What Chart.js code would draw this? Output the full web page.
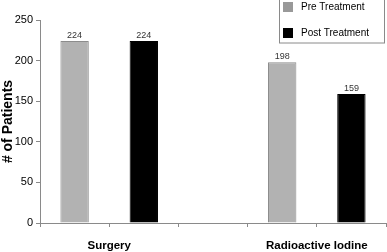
<!DOCTYPE html>
<html>
<head>
<meta charset="utf-8">
<script src="https://cdn.jsdelivr.net/npm/chart.js@4.4.1/dist/chart.umd.min.js"></script>
<style>
  html, body { margin: 0; padding: 0; background: #fff; }
  #wrap { width: 387px; height: 252px; }
</style>
</head>
<body>
<div id="wrap"><canvas id="c" width="387" height="252"></canvas></div>
<script>
const categories = ['Surgery', 'Radioactive Iodine'];
const seriesNames = ['Pre Treatment', 'Post Treatment'];
const preValues = [224, 198];
const postValues = [224, 159];
const yTickValues = [0, 50, 100, 150, 200, 250];

// slot layout: each category occupies two slots with a blank slot between groups
const groupCenters = categories.map((c, i) => i * 3 + 1);
const preData = preValues.map((v, i) => ({ x: groupCenters[i] - 0.5, y: v }));
const postData = postValues.map((v, i) => ({ x: groupCenters[i] + 0.5, y: v }));
const seriesColors = ['#b2b2b2', '#000000'];
const seriesBorders = ['#8c8c8c', '#000000'];

const valueLabels = {
  id: 'valueLabels',
  afterDatasetsDraw(chart) {
    const ctx = chart.ctx;
    ctx.save();
    ctx.font = '9px "Liberation Sans", Arial, sans-serif';
    ctx.fillStyle = '#333';
    ctx.textAlign = 'center';
    ctx.textBaseline = 'bottom';
    chart.data.datasets.forEach((ds, di) => {
      const meta = chart.getDatasetMeta(di);
      meta.data.forEach((el, i) => {
        ctx.fillText(String(ds.data[i].y), el.x, el.y - 1);
      });
    });
    ctx.restore();
  }
};

const boxLegend = {
  id: 'boxLegend',
  afterDraw(chart) {
    const ctx = chart.ctx;
    ctx.save();
    const x0 = 279.5, y0 = -0.5, w = 105, h = 43.5;
    ctx.strokeStyle = '#8a8a8a';
    ctx.lineWidth = 1;
    ctx.fillStyle = '#fff';
    ctx.fillRect(x0, y0, w, h);
    ctx.strokeRect(x0, y0, w, h);
    ctx.font = '10px "Liberation Sans", Arial, sans-serif';
    ctx.textBaseline = 'middle';
    ctx.textAlign = 'left';
    chart.data.datasets.forEach((ds, i) => {
      const cy = 7 + i * 26;
      ctx.fillStyle = i === 0 ? '#999999' : ds.backgroundColor;
      ctx.fillRect(283, cy - 5, 10, 10);
      ctx.fillStyle = '#000';
      ctx.fillText(ds.label, 301, cy);
    });
    ctx.restore();
  }
};

new Chart(document.getElementById('c'), {
  type: 'bar',
  data: {
    datasets: [
      { label: seriesNames[0], data: preData, backgroundColor: seriesColors[0], borderColor: seriesBorders[0], borderWidth: 1, grouped: false, barPercentage: 0.41, categoryPercentage: 1 },
      { label: seriesNames[1], data: postData, backgroundColor: seriesColors[1], borderColor: seriesBorders[1], borderWidth: 1, grouped: false, barPercentage: 0.41, categoryPercentage: 1 }
    ]
  },
  options: {
    responsive: false,
    animation: false,
    layout: { padding: { top: 20, right: 1, left: 0, bottom: 0 } },
    plugins: { legend: { display: false }, tooltip: { enabled: false } },
    scales: {
      x: {
        type: 'linear',
        offset: false,
        min: 0,
        max: categories.length * 3 - 1,
        afterBuildTicks(scale) {
          const t = [];
          for (let v = 0; v <= categories.length * 3 - 1; v++) t.push({ value: v });
          scale.ticks = t;
        },
        afterFit(scale) { scale.height = 29; },
        grid: { display: true, offset: false, drawOnChartArea: false, drawTicks: true, tickLength: 4, color: '#8a8a8a' },
        border: { display: true, color: '#8a8a8a' },
        ticks: {
          autoSkip: false,
          maxRotation: 0,
          padding: 0,
          color: '#000',
          font: { family: '"Liberation Sans", Arial, sans-serif', size: 11.5, weight: 'bold', lineHeight: 1.1 },
          callback(v) {
            const idx = groupCenters.indexOf(v);
            return idx >= 0 ? ['', categories[idx]] : '';
          }
        }
      },
      y: {
        min: 0,
        max: 250,
        afterBuildTicks(scale) { scale.ticks = yTickValues.map(v => ({ value: v })); },
        afterFit(scale) { scale.width = 40; },
        grid: { display: true, drawOnChartArea: false, drawTicks: true, tickLength: 4, color: '#8a8a8a' },
        border: { display: true, color: '#8a8a8a' },
        ticks: {
          padding: 3,
          color: '#000',
          font: { family: '"Liberation Sans", Arial, sans-serif', size: 11 }
        },
        title: {
          display: true,
          text: '# of Patients',
          color: '#000',
          padding: { top: 0, bottom: 0 },
          font: { family: '"Liberation Sans", Arial, sans-serif', size: 14, weight: 'bold' }
        }
      }
    }
  },
  plugins: [valueLabels, boxLegend]
});
</script>
</body>
</html>
